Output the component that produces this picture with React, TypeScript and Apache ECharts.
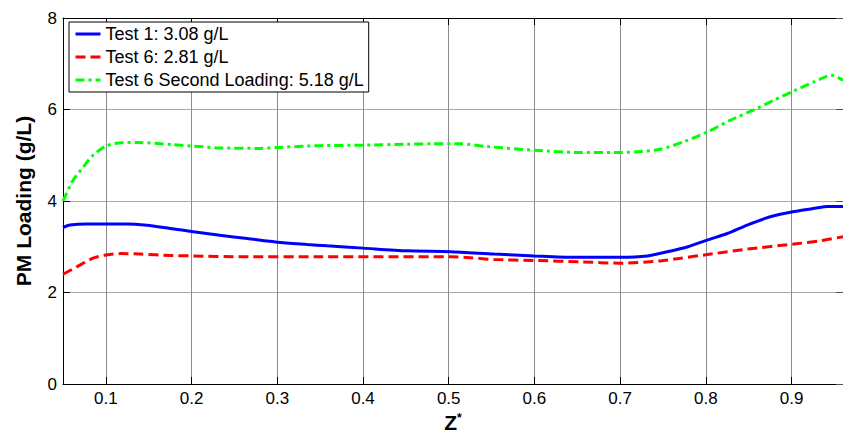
import React, { useEffect, useRef } from "react";
import * as echarts from "echarts";

const FONT = "'Liberation Sans', Arial, Helvetica, sans-serif";

const test1X = [0.05, 0.058, 0.078, 0.1, 0.124, 0.148, 0.175, 0.202, 0.233, 0.265, 0.3, 0.335, 0.358, 0.4, 0.451, 0.502, 0.553, 0.6, 0.646, 0.7, 0.732, 0.755, 0.779, 0.802, 0.825, 0.849, 0.876, 0.903, 0.927, 0.942, 0.96];
const test1Y = [3.42, 3.475, 3.5, 3.5, 3.5, 3.47, 3.4, 3.33, 3.25, 3.18, 3.1, 3.05, 3.02, 2.97, 2.91, 2.89, 2.84, 2.8, 2.77, 2.77, 2.8, 2.89, 3.0, 3.15, 3.29, 3.48, 3.66, 3.77, 3.84, 3.88, 3.88];

const test6X = [0.05, 0.066, 0.085, 0.1, 0.117, 0.14, 0.175, 0.202, 0.257, 0.35, 0.502, 0.525, 0.553, 0.6, 0.654, 0.7, 0.747, 0.771, 0.802, 0.849, 0.903, 0.934, 0.96];
const test6Y = [2.4, 2.56, 2.75, 2.82, 2.85, 2.84, 2.81, 2.8, 2.78, 2.78, 2.78, 2.76, 2.72, 2.7, 2.67, 2.64, 2.69, 2.75, 2.83, 2.95, 3.06, 3.13, 3.22];

const test6bX = [0.05, 0.062, 0.074, 0.085, 0.1, 0.115, 0.136, 0.179, 0.202, 0.233, 0.28, 0.3, 0.335, 0.35, 0.4, 0.451, 0.479, 0.514, 0.545, 0.6, 0.654, 0.7, 0.724, 0.747, 0.775, 0.802, 0.829, 0.856, 0.88, 0.903, 0.927, 0.947, 0.96];
const test6bY = [4.0, 4.46, 4.75, 5.0, 5.2, 5.27, 5.28, 5.23, 5.2, 5.16, 5.15, 5.17, 5.2, 5.21, 5.22, 5.24, 5.25, 5.25, 5.19, 5.11, 5.06, 5.06, 5.08, 5.13, 5.3, 5.51, 5.77, 5.99, 6.21, 6.41, 6.61, 6.75, 6.64];

const seriesNames = ["Test 1: 3.08 g/L", "Test 6: 2.81 g/L", "Test 6 Second Loading: 5.18 g/L"];

const X_MIN = 0.05;
const X_MAX = 0.96;
const Y_MIN = 0;
const Y_MAX = 8;

const zip = (xs: number[], ys: number[]) => xs.map((x, i) => [x, ys[i]]);

export default function App() {
  const ref = useRef<HTMLDivElement>(null);
  useEffect(() => {
    if (!ref.current) return;
    const chart = echarts.init(ref.current, null, { renderer: "svg" });
    const gridColor = "#8c8c8c";
    chart.setOption({
      animation: false,
      backgroundColor: "#ffffff",
      textStyle: { fontFamily: FONT },
      grid: { left: 63, right: 0, top: 18, bottom: 49, containLabel: false, outerBoundsMode: "none" },
      legend: {
        orient: "vertical",
        left: 69,
        top: 22,
        padding: [3, 5, 3, 5],
        itemGap: 5,
        itemWidth: 25,
        itemHeight: 14,
        backgroundColor: "#ffffff",
        borderColor: "#000000",
        borderWidth: 1,
        borderRadius: 0,
        itemStyle: { opacity: 0 },
        lineStyle: { width: 3 },
        textStyle: { fontFamily: FONT, fontSize: 18, color: "#000" },
        data: seriesNames,
      },
      xAxis: [
        {
          type: "value",
          min: X_MIN,
          max: X_MAX,
          minInterval: 0.1,
          maxInterval: 0.1,
          name: "{z|Z}{s|*}",
          nameLocation: "middle",
          nameGap: 26,
          nameTextStyle: {
            rich: {
              z: { fontFamily: FONT, fontSize: 21, fontWeight: "bold", color: "#000" },
              s: { fontFamily: FONT, fontSize: 12, fontWeight: "bold", color: "#000", verticalAlign: "top" },
            },
          },
          axisLine: { show: true, onZero: false, lineStyle: { color: "#000", width: 1 } },
          axisTick: { show: true, inside: true, length: 7, lineStyle: { color: "#000" } },
          axisLabel: {
            fontFamily: FONT,
            fontSize: 17,
            color: "#000",
            margin: 6,
            showMinLabel: false,
            showMaxLabel: false,
            formatter: (v: number) => v.toFixed(1),
          },
          splitLine: { show: true, lineStyle: { color: gridColor, width: 1 } },
        },
        {
          type: "value",
          position: "top",
          min: X_MIN,
          max: X_MAX,
          minInterval: 0.1,
          maxInterval: 0.1,
          axisLine: { show: true, onZero: false, lineStyle: { color: "#000", width: 1 } },
          axisTick: { show: true, inside: true, length: 7, lineStyle: { color: "#000" } },
          axisLabel: { show: false },
          splitLine: { show: false },
        },
      ],
      yAxis: [
        {
          type: "value",
          min: Y_MIN,
          max: Y_MAX,
          interval: 2,
          name: "PM Loading (g/L)",
          nameLocation: "middle",
          nameGap: 29,
          nameTextStyle: { fontFamily: FONT, fontSize: 21, fontWeight: "bold", color: "#000" },
          axisLine: { show: true, lineStyle: { color: "#000", width: 1 } },
          axisTick: { show: true, inside: true, length: 7, lineStyle: { color: "#000" } },
          axisLabel: { fontFamily: FONT, fontSize: 17, color: "#000", margin: 6 },
          splitLine: { show: true, lineStyle: { color: "#a8a8a8", width: 1 } },
        },
        {
          type: "value",
          position: "right",
          min: Y_MIN,
          max: Y_MAX,
          interval: 2,
          axisLine: { show: true, lineStyle: { color: "#000", width: 1 } },
          axisTick: { show: true, inside: true, length: 7, lineStyle: { color: "#555" } },
          axisLabel: { show: false },
          splitLine: { show: false },
        },
      ],
      series: [
        {
          name: seriesNames[0],
          type: "line",
          data: zip(test1X, test1Y),
          smooth: 0.25,
          symbol: "none",
          lineStyle: { color: "#0000ff", width: 3, type: "solid" },
          itemStyle: { color: "#0000ff" },
        },
        {
          name: seriesNames[1],
          type: "line",
          data: zip(test6X, test6Y),
          smooth: 0.25,
          symbol: "none",
          lineStyle: { color: "#ff0000", width: 3, type: [10, 5] },
          itemStyle: { color: "#ff0000" },
        },
        {
          name: seriesNames[2],
          type: "line",
          data: zip(test6bX, test6bY),
          smooth: 0.25,
          symbol: "none",
          lineStyle: { color: "#00ff00", width: 3, type: [9, 4, 3, 4] },
          itemStyle: { color: "#00ff00" },
        },
      ],
    });
    return () => chart.dispose();
  }, []);
  return (
    <div
      ref={ref}
      style={{ position: "fixed", left: 0, top: 0, width: 843, height: 433, background: "#fff" }}
    />
  );
}
